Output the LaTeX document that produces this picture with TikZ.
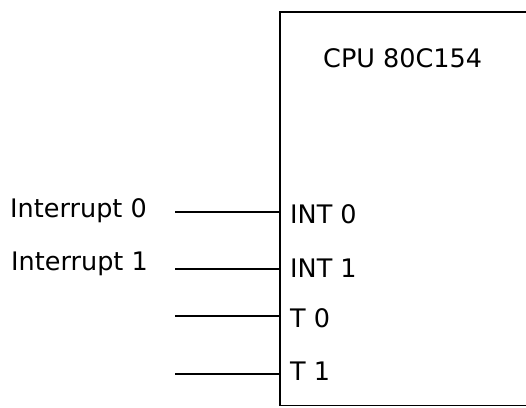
\documentclass[tikz,border=0pt]{standalone}
\usepackage{fontspec}
\setmainfont{DejaVu Sans}
\usetikzlibrary{positioning}
\tikzset{
  wire/.style={line width=1.3pt},
  pinlabel/.style={anchor=base west,inner sep=0pt},
  siglabel/.style={anchor=base west,inner sep=0pt}
}

\begin{document}
\begin{tikzpicture}[x=1pt,y=-1pt,font=\fontsize{25.5}{30}\selectfont]
  \useasboundingbox (0,0) rectangle (526,407);

  % CPU box, cut off at the right edge
  \draw[wire] (530,12) -- (280,12) -- (280,405.5) -- (530,405.5);
  \node[pinlabel] (cpu) at (323,67) {CPU 80C154};

  % Pins on the left side of the box
  \foreach \i/\y/\b/\txt in {0/212/223/INT 0,1/269/277/INT 1,2/316/327/T 0,3/374/380/T 1}{
    \coordinate (s\i) at (175,\y);
    \coordinate (e\i) at (280,\y);
    \node[pinlabel] (pin\i) at (290,\b) {\txt};
    \draw[wire] (s\i) -- (e\i);
  }

  % Input signals
  \node[siglabel] (irq0) at (10,217) {Interrupt 0};
  \node[siglabel] (irq1) at (11,270) {Interrupt 1};
\end{tikzpicture}
\end{document}
